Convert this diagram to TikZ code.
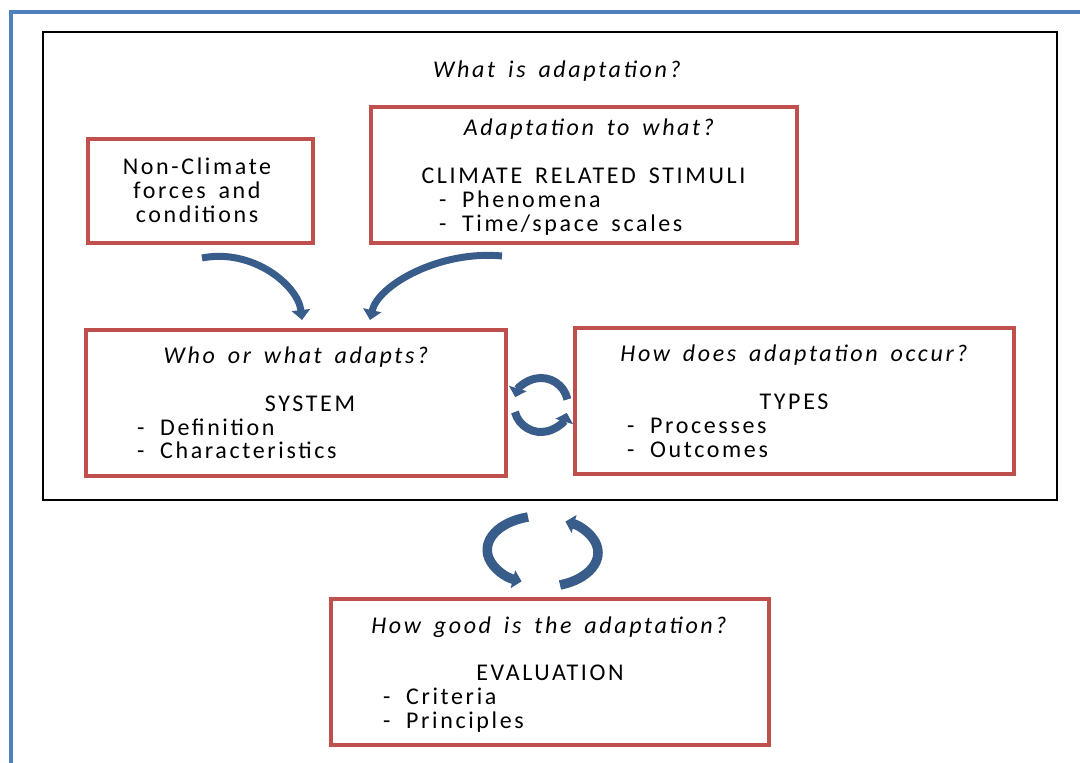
\documentclass[tikz,border=0pt]{standalone}
\usepackage{fontspec}
\setmainfont{Carlito}[LetterSpace=11,WordSpace=1.6]
\usetikzlibrary{arrows.meta,calc}
\definecolor{framblue}{RGB}{79,129,189}
\definecolor{boxred}{RGB}{192,80,77}
\definecolor{arrblue}{RGB}{56,93,138}
\newcommand{\dashitem}[1]{-\hspace{0.65em}#1}
\begin{document}
\begin{tikzpicture}[x=1pt,y=-1pt,
  redbox/.style={draw=boxred,line width=3.5pt,fill=none},
  txt/.style={inner sep=0pt,anchor=base,font=\fontsize{24}{26}\selectfont},
  ttl/.style={txt,font=\fontsize{24}{26}\selectfont\itshape},
  item/.style={txt,anchor=base west},
  bluearrow/.style={draw=arrblue,line width=7pt,
    -{Triangle[width=18pt,length=10pt]}},
  cyclearrow/.style={bluearrow,line width=8pt,
    -{Triangle[width=18pt,length=9pt]}},
]
\useasboundingbox (0,0) rectangle (1080,763);
% outer frame
\draw[framblue,line width=4pt] (10.5,763) -- (10.5,11.7) -- (1080,11.7);
% black panel
\draw[black,line width=1.8pt] (43,32) rectangle (1057,500);
\node[ttl] (q0) at (557,77) {What is adaptation?};

% boxes
\node[redbox,minimum width=225pt,minimum height=104pt] (nonclim) at (200.5,191) {};
\node[redbox,minimum width=426pt,minimum height=136pt] (stim) at (584,175) {};
\node[redbox,minimum width=420pt,minimum height=146pt] (sys) at (296,403) {};
\node[redbox,minimum width=439pt,minimum height=146pt] (types) at (794.5,401) {};
\node[redbox,minimum width=438pt,minimum height=146pt] (eval) at (550,672) {};

% non-climate box
\node[txt] (nc1) at (197,174) {Non-Climate};
\node[txt] (nc2) at (197,198) {forces and};
\node[txt] (nc3) at (197,222) {conditions};

% stimuli box
\node[ttl] (s0) at (589,135) {Adaptation to what?};
\node[txt] (s1) at (583.5,183) {CLIMATE RELATED STIMULI};
\node[item] (s2) at (439,207) {\dashitem{Phenomena}};
\node[item] (s3) at (439,231) {\dashitem{Time/space scales}};

% system box
\node[ttl] (y0) at (296,363) {Who or what adapts?};
\node[txt] (y1) at (310,411) {SYSTEM};
\node[item] (y2) at (137,435) {\dashitem{Definition}};
\node[item] (y3) at (137,458) {\dashitem{Characteristics}};

% types box
\node[ttl] (t0) at (794,361) {How does adaptation occur?};
\node[txt] (t1) at (794,409) {TYPES};
\node[item] (t2) at (627,433) {\dashitem{Processes}};
\node[item] (t3) at (627,457) {\dashitem{Outcomes}};

% evaluation box
\node[ttl] (e0) at (549,633) {How good is the adaptation?};
\node[txt] (e1) at (550,680) {EVALUATION};
\node[item] (e2) at (383,704) {\dashitem{Criteria}};
\node[item] (e3) at (383,728) {\dashitem{Principles}};

% curved arrows into the system box
\coordinate (la) at (202,258);
\coordinate (lb) at (302,320);
\coordinate (ra) at (502,256);
\coordinate (rb) at (370,320);
\draw[bluearrow] (la) .. controls (252,248) and (298,285) .. (lb);
\draw[bluearrow] (ra) .. controls (440,250) and (378,285) .. (rb);

% small cycle between system and types
\coordinate (sc) at (541,405);
\draw[cyclearrow] ($(sc)+(-12:27)$) arc[start angle=-12,end angle=-163,radius=27];
\draw[cyclearrow] ($(sc)+(165:27)$) arc[start angle=165,end angle=17,radius=27];

% large cycle towards evaluation
\draw[cyclearrow,line width=9.5pt] (528,517) arc[start angle=-105,end angle=-248,x radius=55,y radius=34];
\draw[cyclearrow,line width=9.5pt] (560,585) arc[start angle=72,end angle=-66,x radius=55,y radius=34];
\end{tikzpicture}
\end{document}
